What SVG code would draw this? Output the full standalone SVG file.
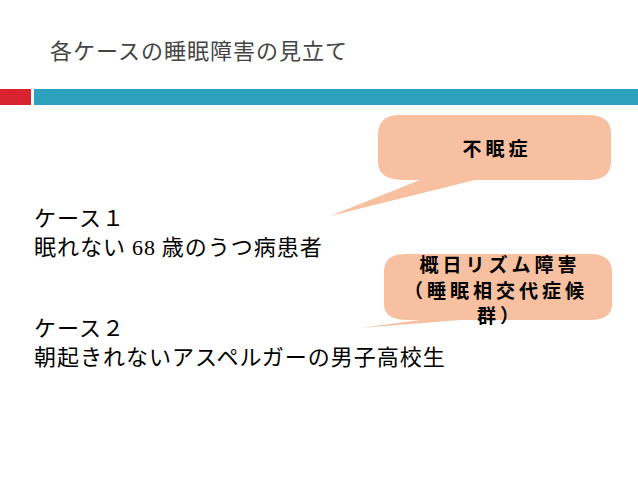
<svg xmlns="http://www.w3.org/2000/svg" width="638" height="479" viewBox="0 0 638 479">
<style>
.t{font-family:"Noto Sans CJK JP","Liberation Sans",sans-serif;fill:#000}
.b{font-family:"Noto Sans CJK JP","Liberation Sans",sans-serif;font-weight:bold;fill:#000;font-size:19px;text-anchor:middle;letter-spacing:4px}
.c{fill:#f7c0a0}
</style>
<rect width="638" height="479" fill="#fff"/>
<text x="50" y="59" class="t" font-size="22" letter-spacing="1" style="fill:#444">各ケースの睡眠障害の見立て</text>
<rect x="0" y="89" width="31" height="16" fill="#d9232e"/>
<rect x="34" y="89" width="604" height="16" fill="#2ca0bd"/>
<g id="callout1">
<path class="c" d="M400,115 Q378,115 378,135 L378,162 Q378,180 405,180 L420,180 L330,216 L475,180 L588,180 Q611,180 611,162 L611,133 Q611,115 588,115 Z"/>
<text x="497" y="156" class="b">不眠症</text>
</g>
<g id="callout2">
<path class="c" d="M405,254 Q384,254 384,272 L384,304 Q384,320 408,320 L420,320 L360,328 L460,320 L590,320 Q612,320 612,304 L612,272 Q612,254 590,254 Z"/>
<text x="500" y="272" class="b">概日リズム障害</text>
<text x="496" y="298" class="b">（睡眠相交代症候</text>
<text x="500" y="323" class="b">群）</text>
</g>
<g id="text">
<text x="34" y="226" class="t" font-size="22" letter-spacing="1">ケース１</text>
<text x="34" y="255" class="t" font-size="22" letter-spacing="1">眠れない <tspan font-family="Liberation Serif">68</tspan> 歳のうつ病患者</text>
<text x="34" y="336" class="t" font-size="22" letter-spacing="1">ケース２</text>
<text x="34" y="365" class="t" font-size="22" letter-spacing="1">朝起きれないアスペルガーの男子高校生</text>
</g>
</svg>
